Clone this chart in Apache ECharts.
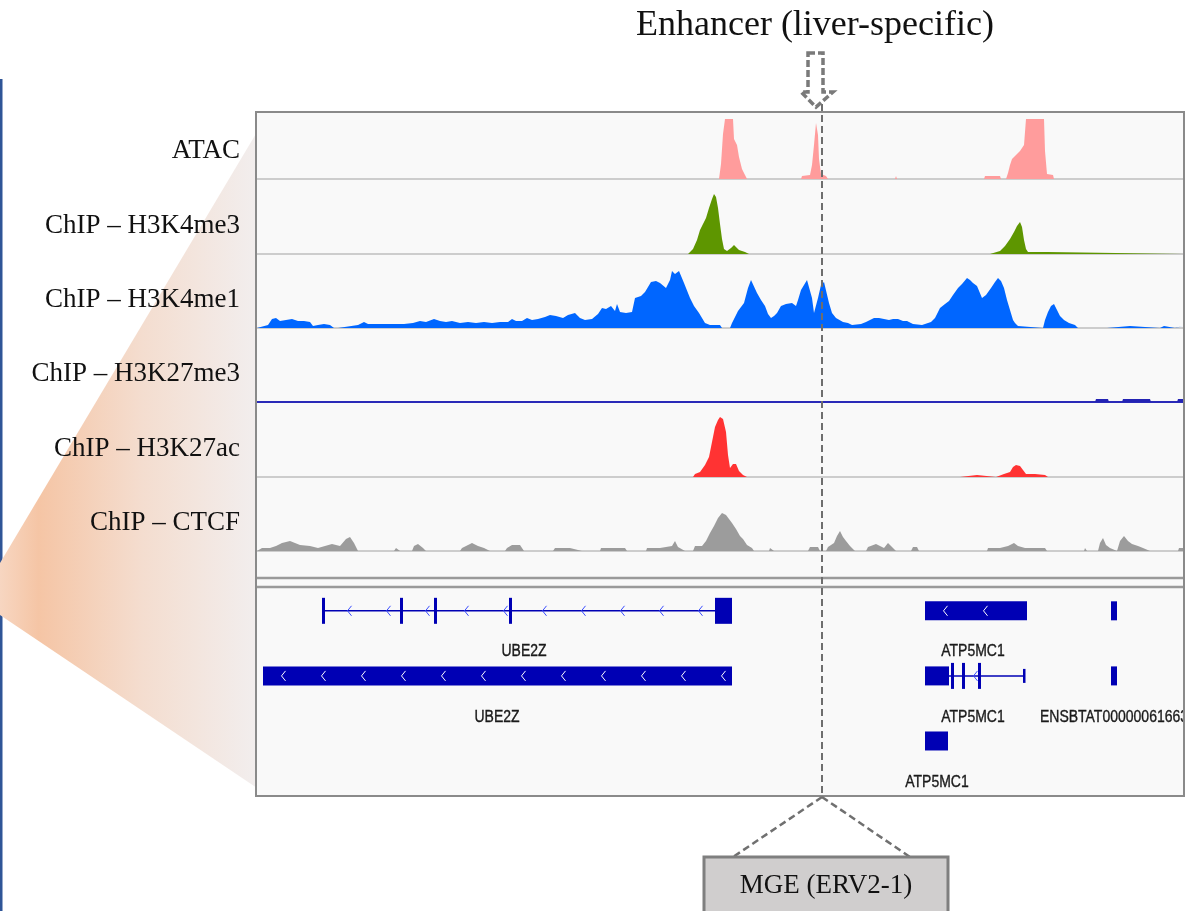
<!DOCTYPE html>
<html>
<head>
<meta charset="utf-8">
<title>Liver-specific enhancer at the UBE2Z / ATP5MC1 locus</title>
<script src="https://cdn.jsdelivr.net/npm/echarts@6/dist/echarts.min.js"></script>
<style>
  html, body { margin: 0; padding: 0; background: #fff; }
  #chart { width: 1191px; height: 911px; }
</style>
</head>
<body>
<div id="chart"></div>
<script>
// track names (top to bottom)
const trackNames = ['ATAC', 'ChIP – H3K4me3', 'ChIP – H3K4me1', 'ChIP – H3K27me3', 'ChIP – H3K27ac', 'ChIP – CTCF']

// signal per track: [position, height]
const atac = [[257,0],[287,0],[288,2],[290,0],[314,0],[315,2],[318,0],[719,0],[721,15],[723,45],[725,60],[733,60],[734,40],[737,34],[739,22],[742,10],[745,4],[747,0],[801,0],[802,3],[810,4],[812,14],[814,34],[816,56],[818,44],[819,20],[821,5],[826,3],[828,0],[895,0],[896,3],[897,0],[984,0],[985,3],[1000,3],[1001,0],[1006,0],[1008,6],[1010,14],[1012,20],[1016,24],[1020,28],[1024,34],[1026,60],[1044,60],[1045,28],[1047,5],[1053,4],[1054,0],[1183,0]]
const h3k4me3 = [[257,0],[688,0],[689,2],[693,5],[697,14],[700,24],[703,30],[706,36],[709,46],[712,55],[714,60],[716,57],[718,46],[720,30],[722,15],[724,5],[727,3],[731,6],[734,9],[736,7],[739,4],[745,2],[749,0],[990,0],[992,2],[1000,3],[1005,8],[1010,15],[1014,22],[1017,28],[1020,32],[1022,27],[1024,14],[1026,5],[1028,2],[1048,2],[1049,0],[1183,0]]
const h3k4me1 = [[257,0],[259,2],[268,3],[272,9],[276,10],[280,7],[286,8],[292,9],[298,7],[304,7],[310,6],[313,2],[318,3],[324,4],[330,3],[334,0],[338,0],[340,2],[358,3],[364,6],[368,4],[376,4],[390,4],[404,4],[413,5],[420,7],[426,6],[434,9],[440,7],[446,6],[452,7],[460,5],[468,6],[476,5],[484,6],[492,5],[500,6],[508,6],[512,9],[516,7],[522,7],[527,10],[532,8],[538,9],[545,11],[550,13],[556,12],[563,10],[568,13],[575,15],[580,10],[585,8],[592,9],[598,14],[602,20],[606,19],[611,22],[615,17],[617,24],[620,16],[626,15],[632,16],[635,30],[641,32],[645,36],[651,46],[656,47],[660,45],[666,40],[670,48],[672,57],[675,54],[679,57],[684,45],[690,30],[694,22],[699,15],[705,5],[710,3],[720,3],[722,0],[730,0],[732,5],[738,17],[744,25],[748,40],[751,48],[753,48],[757,35],[761,28],[765,22],[768,14],[771,10],[774,12],[777,15],[781,22],[786,24],[792,25],[796,22],[798,28],[801,38],[804,43],[807,48],[809,47],[812,30],[814,15],[816,16],[818,30],[821,43],[824,46],[826,44],[829,25],[832,15],[836,10],[843,6],[848,5],[852,3],[861,4],[866,6],[870,8],[874,10],[879,10],[884,9],[889,8],[893,9],[898,9],[903,7],[907,7],[913,4],[922,3],[928,5],[931,6],[935,10],[940,20],[945,24],[949,27],[953,33],[958,40],[962,44],[967,50],[970,48],[973,45],[977,42],[982,30],[986,33],[991,40],[995,46],[998,50],[1001,47],[1004,40],[1007,28],[1010,18],[1013,8],[1015,5],[1018,2],[1019,0],[1043,0],[1045,8],[1048,16],[1051,22],[1054,24],[1057,18],[1060,12],[1064,8],[1069,5],[1075,3],[1078,0],[1107,0],[1108,2],[1130,2],[1131,0],[1160,0],[1161,2],[1164,2],[1165,0],[1175,0],[1176,2],[1183,2]]
const h3k27me3 = [[257,0],[1095,0],[1096,3],[1108,3],[1109,0],[1122,0],[1123,3],[1150,3],[1151,0],[1177,0],[1178,3],[1183,3]]
const h3k27ac = [[257,0],[693,0],[695,3],[700,5],[705,12],[709,20],[712,35],[715,50],[718,57],[720,60],[723,58],[726,45],[728,22],[730,9],[733,13],[736,13],[739,6],[743,2],[747,0],[960,0],[961,2],[977,2],[978,0],[996,0],[997,2],[1004,3],[1010,5],[1013,10],[1016,12],[1020,11],[1023,7],[1026,3],[1035,3],[1045,2],[1048,0],[1183,0]]
const ctcf = [[257,0],[262,3],[270,3],[276,5],[282,8],[290,10],[295,8],[300,6],[310,5],[318,3],[325,5],[332,7],[340,5],[346,12],[350,14],[354,8],[358,0],[394,0],[396,3],[400,0],[412,0],[414,5],[418,7],[423,3],[426,0],[460,0],[462,3],[472,8],[478,5],[484,3],[490,0],[505,0],[507,3],[512,6],[520,6],[524,0],[553,0],[555,3],[570,3],[582,0],[600,0],[601,3],[625,3],[627,0],[646,0],[647,3],[660,3],[672,5],[675,10],[678,4],[685,0],[693,0],[695,5],[702,5],[706,10],[710,18],[714,25],[718,33],[722,38],[726,36],[728,38],[732,28],[736,22],[740,15],[743,12],[747,6],[752,3],[754,0],[769,0],[770,3],[774,0],[808,0],[810,4],[818,4],[820,0],[826,0],[828,4],[834,8],[837,15],[840,20],[843,14],[846,10],[850,5],[855,0],[866,0],[868,4],[876,7],[880,5],[884,3],[888,8],[892,4],[896,0],[911,0],[913,4],[917,4],[919,0],[987,0],[988,3],[1000,3],[1008,5],[1014,8],[1018,5],[1025,3],[1045,3],[1047,0],[1056,0],[1057,2],[1060,0],[1066,0],[1067,2],[1070,0],[1084,0],[1085,3],[1087,0],[1098,0],[1100,8],[1103,13],[1106,6],[1110,3],[1117,0],[1118,0],[1120,10],[1124,15],[1128,10],[1132,7],[1138,5],[1143,3],[1150,0],[1178,0],[1179,3],[1183,3]]
const signals = [atac, h3k4me3, h3k4me1, h3k27me3, h3k27ac, ctcf]

// gene models: [start, end, row, kind]
const geneBlocks = [
  [323, 732, 0, 'intron'], [322, 325, 0, 'cds'], [400, 403, 0, 'cds'], [434, 437, 0, 'cds'], [509, 512, 0, 'cds'], [715, 732, 0, 'cds'],
  [925, 1027, 0, 'utr'], [1111, 1117, 0, 'utr'],
  [263, 732, 1, 'utr'],
  [949, 1024, 1, 'intron'], [925, 949, 1, 'utr'], [951, 954, 1, 'cds'], [962, 965, 1, 'cds'], [978, 981, 1, 'cds'], [1023, 1025, 1, 'end'],
  [1111, 1117, 1, 'utr'],
  [925, 948, 2, 'utr']
]
// gene labels: [center, row, name]
const geneLabels = [
  [524, 0, 'UBE2Z'], [973, 0, 'ATP5MC1'],
  [497, 1, 'UBE2Z'], [973, 1, 'ATP5MC1'], [1114, 1, 'ENSBTAT00000061663'],
  [937, 2, 'ATP5MC1']
]
const enhancerPos = 822
const titleText = 'Enhancer (liver-specific)'
const mgeText = 'MGE (ERV2-1)'

// layout
const LEFT = 257
const WIDTH = 926
const trackTops = [113, 181, 256, 330, 404, 479]
const trackHeights = [66, 73, 72, 72, 73, 72]
const trackColors = ['#ff9c9c', '#5e9600', '#0066ff', '#2323b4', '#ff3333', '#9c9c9c']
const GENE_TOP = 590
const GENE_HEIGHT = 205
const GENE_BLUE = '#0000b4'

const chart = echarts.init(document.getElementById('chart'))

const grids = trackTops.map((top, i) => ({ left: LEFT, width: WIDTH, top, height: trackHeights[i] }))
grids.push({ left: LEFT, width: WIDTH, top: GENE_TOP, height: GENE_HEIGHT })

const xAxes = grids.map((g, i) => ({
  gridIndex: i,
  type: 'value',
  min: 257,
  max: 1183,
  show: i < 6,
  z: 1,
  axisLine: {
    show: true,
    onZero: false,
    lineStyle: { color: i === 3 ? '#2a2ab8' : '#cdcdcd', width: 2 }
  },
  axisTick: { show: false },
  axisLabel: { show: false },
  splitLine: { show: false }
}))

const yAxes = grids.map((g, i) =>
  i < 6
    ? { gridIndex: i, type: 'value', min: 0, max: trackHeights[i], show: false }
    : { gridIndex: i, type: 'value', min: -0.32, max: 2.83, inverse: true, show: false }
)

const trackSeries = signals.map((data, i) => ({
  type: 'line',
  xAxisIndex: i,
  yAxisIndex: i,
  data,
  showSymbol: false,
  silent: true,
  lineStyle: { width: 0 },
  areaStyle: { color: trackColors[i], opacity: 1 },
  z: 3
}))

function chevron(x, y, color) {
  return {
    type: 'polyline',
    shape: { points: [[x + 2.5, y - 5], [x - 1.5, y], [x + 2.5, y + 5]] },
    style: { stroke: color, lineWidth: 1, fill: null }
  }
}

function renderGene(params, api) {
  const item = geneBlocks[params.dataIndex]
  const kind = item[3]
  const p0 = api.coord([item[0], item[2]])
  const p1 = api.coord([item[1], item[2]])
  const y = p0[1]
  const children = []
  if (kind === 'intron') {
    children.push({
      type: 'line',
      shape: { x1: p0[0], y1: y, x2: p1[0], y2: y },
      style: { stroke: GENE_BLUE, lineWidth: 1.5 }
    })
    for (let x = p0[0] + 26; x < p1[0] - 20; x += 39) children.push(chevron(x, y, '#3a4dff'))
  } else {
    const h = kind === 'cds' ? 26 : kind === 'end' ? 14 : 19
    const w = Math.max(p1[0] - p0[0], 2.5)
    children.push({
      type: 'rect',
      shape: { x: p0[0], y: y - h / 2, width: w, height: h },
      style: { fill: GENE_BLUE }
    })
    if (w > 30) {
      for (let x = p0[0] + 20; x < p1[0] - 4; x += 40) children.push(chevron(x, y, '#ffffff'))
    }
  }
  return { type: 'group', children }
}

function renderLabel(params, api) {
  const item = geneLabels[params.dataIndex]
  const p = api.coord([item[0], item[1] + 0.63])
  return {
    type: 'text',
    x: p[0],
    y: p[1],
    scaleY: 1.2,
    style: {
      text: item[2],
      x: 0,
      y: 0,
      align: 'center',
      verticalAlign: 'middle',
      font: '14px "Liberation Sans", Arial, sans-serif',
      fill: '#1a1a1a',
      stroke: '#1a1a1a',
      lineWidth: 0.3
    }
  }
}

const series = trackSeries.concat([
  {
    type: 'custom',
    xAxisIndex: 6,
    yAxisIndex: 6,
    data: geneBlocks.map(d => [d[0], d[1], d[2]]),
    encode: { x: [0, 1], y: 2 },
    renderItem: renderGene,
    silent: true,
    clip: true,
    z: 3
  },
  {
    type: 'custom',
    xAxisIndex: 6,
    yAxisIndex: 6,
    data: geneLabels.map(d => [d[0], d[1]]),
    encode: { x: 0, y: 1 },
    renderItem: renderLabel,
    silent: true,
    clip: true,
    z: 3
  }
])

chart.setOption({
  animation: false,
  backgroundColor: '#ffffff',
  grid: grids,
  xAxis: xAxes,
  yAxis: yAxes,
  series
})

// overlay annotations placed from the axes
const ex = chart.convertToPixel({ xAxisIndex: 0 }, enhancerPos)
const boxTop = trackTops[0]
const boxBottom = GENE_TOP + GENE_HEIGHT
const boxRight = LEFT + WIDTH
const mgeTop = 857

const graphics = [
  // blue rule on the far left
  { type: 'rect', z: -30, shape: { x: 0, y: 79, width: 2.5, height: 840 }, style: { fill: '#2f5597' } },
  // zoom-in wedge
  {
    type: 'polygon', z: -20,
    shape: { points: [[0, 563], [LEFT, 132], [LEFT, 788], [0, 615]] },
    style: {
      fill: new echarts.graphic.LinearGradient(0, 0, 1, 0, [
        { offset: 0, color: '#f7d6c1' },
        { offset: 0.15, color: '#f5c5a5' },
        { offset: 0.55, color: '#f4ddcf' },
        { offset: 1, color: '#f2eeee' }
      ])
    }
  },
  // browser panel background
  { type: 'rect', z: -10, shape: { x: LEFT, y: boxTop, width: WIDTH, height: boxBottom - boxTop }, style: { fill: '#f9f9f9' } },
  // separator between data and gene tracks
  { type: 'line', z: 50, shape: { x1: LEFT, y1: 578, x2: boxRight, y2: 578 }, style: { stroke: '#9a9a9a', lineWidth: 2.5 } },
  { type: 'line', z: 50, shape: { x1: LEFT, y1: 587, x2: boxRight, y2: 587 }, style: { stroke: '#9a9a9a', lineWidth: 2.5 } },
  // panel border
  { type: 'rect', z: 60, shape: { x: LEFT - 1, y: boxTop - 1, width: WIDTH + 2, height: boxBottom - boxTop + 2 }, style: { fill: null, stroke: '#8a8a8a', lineWidth: 2 } },
  // enhancer position
  { type: 'line', z: 70, shape: { x1: ex, y1: 104, x2: ex, y2: boxBottom + 1 }, style: { stroke: '#6e6e6e', lineWidth: 2, lineDash: [7, 4] } },
  { type: 'line', z: 70, shape: { x1: ex, y1: boxBottom + 2, x2: 733, y2: mgeTop }, style: { stroke: '#707070', lineWidth: 2.5, lineDash: [7, 4] } },
  { type: 'line', z: 70, shape: { x1: ex, y1: boxBottom + 2, x2: 910, y2: mgeTop }, style: { stroke: '#707070', lineWidth: 2.5, lineDash: [7, 4] } },
  // MGE box
  { type: 'rect', z: 80, shape: { x: 704, y: mgeTop, width: 244, height: 70 }, style: { fill: '#d0cece', stroke: '#7f7f7f', lineWidth: 3 } },
  {
    type: 'text', z: 81, x: 826, y: 886,
    style: { text: mgeText, align: 'center', verticalAlign: 'middle', font: '27px "Liberation Serif", "Times New Roman", serif', fill: '#111' }
  },
  // title
  {
    type: 'text', z: 81, x: 815, y: 26,
    style: { text: titleText, align: 'center', verticalAlign: 'middle', font: '36px "Liberation Serif", "Times New Roman", serif', fill: '#111' }
  },
  // dashed down arrow
  {
    type: 'polygon', z: 81,
    shape: { points: [[ex - 14, 53], [ex + 1, 53], [ex + 1, 92], [ex + 11, 92], [ex - 6, 107], [ex - 21, 92], [ex - 14, 92]] },
    style: { fill: '#ffffff', stroke: '#7a7a7a', lineWidth: 3.5, lineDash: [7, 3] }
  }
]

trackNames.forEach((name, i) => {
  graphics.push({
    type: 'text', z: 81, x: 240, y: trackTops[i] + trackHeights[i] - 28,
    style: { text: name, align: 'right', verticalAlign: 'middle', font: '27px "Liberation Serif", "Times New Roman", serif', fill: '#111' }
  })
})

chart.setOption({ graphic: graphics })
</script>
</body>
</html>
